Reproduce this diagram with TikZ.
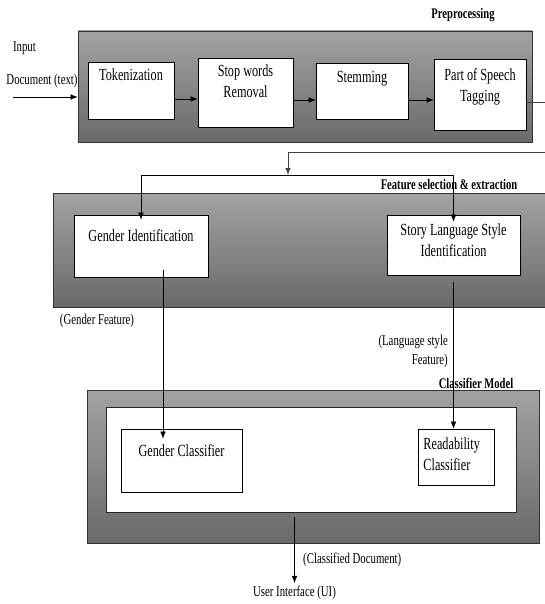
\documentclass[tikz,border=0pt]{standalone}
\usepackage{fontspec}
\setmainfont{Liberation Serif}[FakeStretch=0.72]
\usetikzlibrary{arrows.meta}
\definecolor{stagetop}{HTML}{A2A2A2}
\definecolor{stagebot}{HTML}{6A6A6A}

\begin{document}
\begin{tikzpicture}[x=1pt, y=-1pt, >={Latex[length=7pt,width=5.5pt]},
    stage/.style={draw=black!80, line width=0.9pt, top color=stagetop,
        bottom color=stagebot, inner sep=0pt},
    proc/.style={draw, fill=white, line width=0.8pt, inner sep=0pt},
    proctext/.style={anchor=north, align=center,
        font=\fontsize{17}{21}\selectfont},
    head/.style={font=\bfseries\fontsize{14.7}{17}\selectfont, inner sep=0pt},
    note/.style={font=\fontsize{15}{19}\selectfont, inner sep=0pt}]
    \useasboundingbox (0,0) rectangle (545,604);

    % preprocessing
    \node[stage, minimum width=454pt, minimum height=111pt] (pre) at (305,86.5) {};
    \node[head] (pre-l) at (463,15) {Preprocessing};
    \node[note] (in-l) at (24.5,48) {Input};
    \node[note] (doc-l) at (42,81) {Document (text)};
    \node[proc, minimum width=86pt, minimum height=57pt,
        label={[proctext, yshift=-4pt]north:Tokenization}] (tok) at (131,90.5) {};
    \node[proc, minimum width=95pt, minimum height=69pt,
        label={[proctext, yshift=-4pt]north:{Stop words\\Removal}}] (stop) at (245.5,92.5) {};
    \node[proc, minimum width=92pt, minimum height=56pt,
        label={[proctext, yshift=-5pt]north:Stemming}] (stem) at (362,91) {};
    \node[proc, minimum width=92pt, minimum height=71pt,
        label={[proctext, yshift=-6pt]north:{Part of Speech\\Tagging}}] (pos) at (480,94.5) {};

    % feature selection & extraction
    \node[stage, minimum width=507pt, minimum height=114pt] (feat) at (306.5,250) {};
    \node[head] (feat-l) at (449,184) {Feature selection \& extraction};
    \node[proc, minimum width=134pt, minimum height=62pt,
        label={[proctext, yshift=-11pt]north:Gender Identification}] (genid) at (141,246) {};
    \node[proc, minimum width=133pt, minimum height=60pt,
        label={[proctext, yshift=-6pt]north:{Story Language Style\\Identification}}] (story) at (453.5,245) {};
    \node[note] (gf-l) at (97,321) {(Gender Feature)};
    \node[note, anchor=east, align=right] (lf-l) at (448,351.5) {(Language style\\Feature)};

    % classifier model
    \node[stage, minimum width=452pt, minimum height=153pt] (cls) at (313,466.5) {};
    \node[proc, draw=black!85, line width=0.9pt, minimum width=410pt,
        minimum height=105pt] (clsin) at (311,459.5) {};
    \node[head] (cls-l) at (476,383) {Classifier Model};
    \node[proc, minimum width=121pt, minimum height=63pt,
        label={[proctext, yshift=-12pt]north:Gender Classifier}] (gc) at (181.5,460.5) {};
    \node[proc, minimum width=76pt, minimum height=56pt,
        label={[proctext, anchor=north west, align=left, xshift=2.3pt, yshift=-6pt]north west:{Readability\\Classifier}}] (rc) at (456,457) {};
    \node[note, anchor=west] (cd-l) at (303,560) {(Classified Document)};
    \node[note, inner sep=3pt] (ui) at (294.5,593) {User Interface (UI)};

    % connectors
    \coordinate (doc-in) at (13,97);
    \coordinate (fork) at (288,175);
    \draw[->] (doc-in) -- (pre.west |- doc-in);
    \draw[->] (tok.east |- 0,99) -- (stop.west |- 0,99);
    \draw[->] (stop.east |- 0,100) -- (stem.west |- 0,100);
    \draw[->] (stem.east |- 0,100) -- (pos.west |- 0,100);
    \draw[->, line width=1pt, black!75] (pos.east |- 0,103) -- (560,103)
        -- (560,153) -- (288,153) -- (fork);
    \draw (genid.north |- fork) -- (story.north |- fork);
    \draw[->] (genid.north |- fork) -- ([yshift=-5pt]genid.north);
    \draw[->] (story.north |- fork) -- ([yshift=-7pt]story.north);
    \draw[->] ([xshift=22pt,yshift=7pt]genid.south) -- ([xshift=-18.5pt,yshift=-10pt]gc.north);
    \draw[->] ([yshift=-7pt]story.south) -- (story.south |- rc.north);
    \draw[->] (ui.north |- clsin.south) ++(0,5) -- (ui.north);
\end{tikzpicture}
\end{document}
